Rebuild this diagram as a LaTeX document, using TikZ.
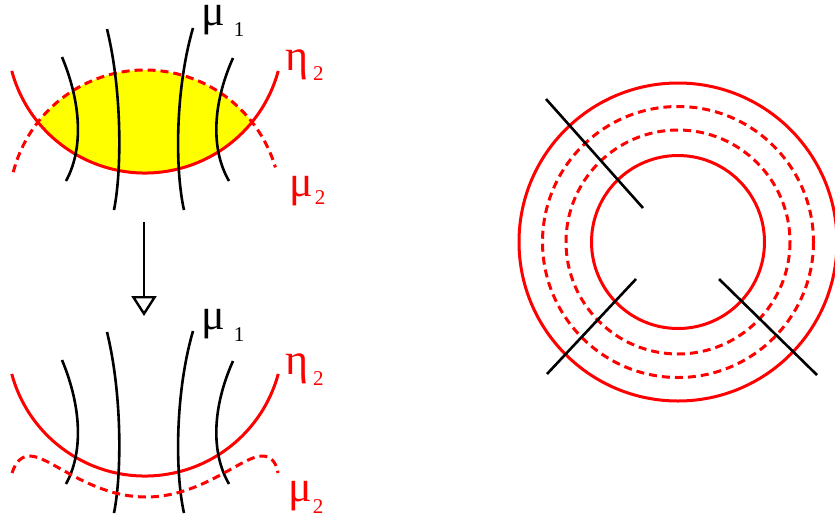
\documentclass[tikz,border=0pt]{standalone}
\usepackage{fontspec}
\setmainfont{Liberation Serif}
\usetikzlibrary{arrows.meta}
\definecolor{rd}{RGB}{255,0,0}
\definecolor{yl}{RGB}{255,255,0}
\newcommand{\gk}{\fontsize{44}{44}\selectfont}
\newcommand{\sbs}[2]{\raisebox{-#1pt}{\fontsize{21}{21}\selectfont #2}}
\begin{document}
\begin{tikzpicture}[x=1pt,y=-1pt,
  redline/.style={rd,line width=3pt},
  reddash/.style={rd,line width=3pt,dash pattern=on 8pt off 5pt},
  blackline/.style={black,line width=2.6pt},
  lbl/.style={anchor=base west,inner sep=0pt,font=\gk}]
\useasboundingbox (0,0) rectangle (835,523);
% ---------- top diagram ----------
\begin{scope}
  \clip (145,35) circle [radius=138];
  \fill[yl] (145,206) circle [radius=136];
\end{scope}
\draw[reddash] (145,206) ++(194.4:136) arc[start angle=194.4,end angle=343.5,radius=136];
\draw[redline] (145,35) ++(164.9:138) arc[start angle=164.9,end angle=15.1,radius=138];
\draw[blackline] (62,57) .. controls (82,105) and (83,150) .. (66,181);
\draw[blackline] (107,29) .. controls (122,90) and (122,170) .. (114,210);
\draw[blackline] (193,28) .. controls (175,90) and (175,170) .. (184,210);
\draw[blackline] (233,58) .. controls (212,105) and (211,150) .. (229,181);
\node[lbl] (mu1a) at (201,25) {μ\hspace{9pt}\sbs{11}{1}};
\node[lbl,text=rd] (eta2a) at (285,70) {η\hspace{5pt}\sbs{10}{2}};
\node[lbl,text=rd] (mu2a) at (289,196) {μ\hspace{2pt}\sbs{8}{2}};
% ---------- arrow ----------
\coordinate (arA) at (144,222);
\coordinate (arB) at (144,316);
\draw[line width=2.4pt,-{Triangle[open,length=20pt,width=25pt,line width=2.4pt]}] (arA) -- (arB);
% ---------- bottom diagram ----------
\begin{scope}[yshift=-303pt]
\draw[redline] (145,35) ++(164.9:138) arc[start angle=164.9,end angle=15.1,radius=138];
\draw[blackline] (62,57) .. controls (82,105) and (83,150) .. (66,181);
\draw[blackline] (107,29) .. controls (122,90) and (122,170) .. (114,210);
\draw[blackline] (193,28) .. controls (175,90) and (175,170) .. (184,210);
\draw[blackline] (233,58) .. controls (212,105) and (211,150) .. (229,181);
\end{scope}
\draw[reddash] (12,473) .. controls (16,461) and (22,456) .. (30,456)
  .. controls (50,456) and (90,497) .. (146,497)
  .. controls (202,497) and (242,456) .. (262,456)
  .. controls (270,456) and (276,461) .. (278,473);
\node[lbl] (mu1b) at (201,329) {μ\hspace{9pt}\sbs{12}{1}};
\node[lbl,text=rd] (eta2b) at (285,374) {η\hspace{5pt}\sbs{11}{2}};
\node[lbl,text=rd] (mu2b) at (288,501) {μ\hspace{1pt}\sbs{12}{2}};
% ---------- right diagram ----------
\coordinate (c) at (678,242);
\draw[redline] (c) circle [radius=159];
\draw[reddash] (c) circle [radius=135.5];
\draw[reddash] (c) circle [radius=112];
\draw[redline] (c) circle [radius=86.5];
\coordinate (l1a) at (546,99);  \coordinate (l1b) at (643,208);
\coordinate (l2a) at (636,279); \coordinate (l2b) at (547,374);
\coordinate (l3a) at (719,279); \coordinate (l3b) at (817,375);
\draw[blackline] (l1a) -- (l1b);
\draw[blackline] (l2a) -- (l2b);
\draw[blackline] (l3a) -- (l3b);
\end{tikzpicture}
\end{document}
